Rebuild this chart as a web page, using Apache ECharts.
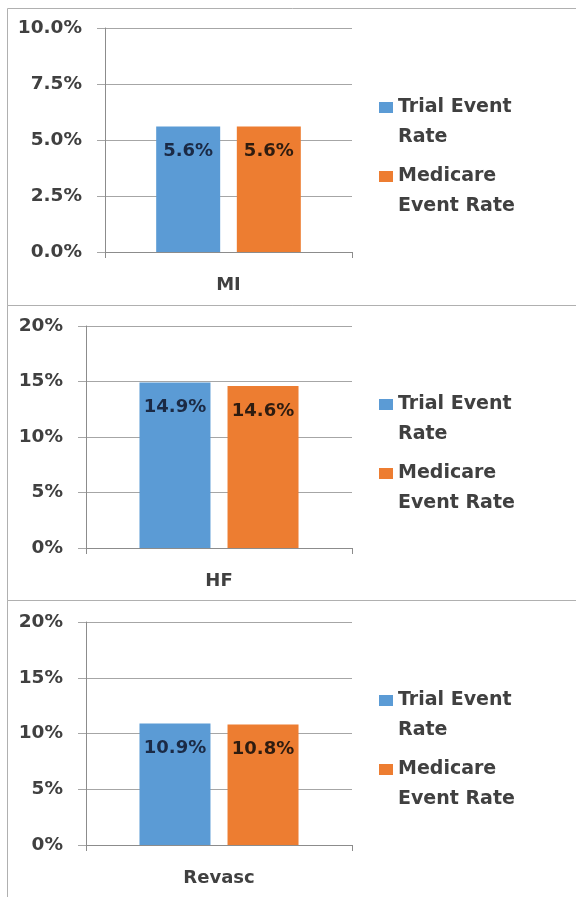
<!DOCTYPE html>
<html>
<head>
<meta charset="utf-8">
<script src="https://cdn.jsdelivr.net/npm/echarts@6/dist/echarts.min.js"></script>
<style>
html,body{margin:0;padding:0;background:#fff;}
#chart{width:576px;height:897px;}
</style>
</head>
<body>
<div id="chart"></div>
<script>
var categories=['MI','HF','Revasc'];
var seriesNames=['Trial Event Rate','Medicare Event Rate'];
var trialRate=[5.6,14.9,10.9];
var medicareRate=[5.6,14.6,10.8];
var yMax=[10,20,20];
var yStep=[2.5,5,5];
var yDecimals=[1,0,0];

var font='"DejaVu Sans", sans-serif';
var textColor='#404040';
var colors=['#5b9bd5','#ed7d31'];
var labelColors=['#1b2a45','#2e1c10'];

// panel geometry
var panels=[
    {left:105,top:28,width:247,height:224,barWidth:64,barGap:'26%',legendTop:92},
    {left:86,top:326,width:266,height:222,barWidth:71,barGap:'24%',legendTop:389},
    {left:86,top:622,width:266,height:223,barWidth:71,barGap:'24%',legendTop:685}
];

var grids=[],xAxes=[],yAxes=[],series=[],legends=[];
// square at first text line, invisible dots stretch the icon box to the text block
var legendIcon='path://M0,10h14v11h-14z M0,0h0.01v0.01h-0.01z M0,60h0.01v0.01h-0.01z';

panels.forEach(function(p,i){
    grids.push({left:p.left,top:p.top,width:p.width,height:p.height});
    xAxes.push({
        type:'category',gridIndex:i,data:[categories[i]],
        axisLine:{lineStyle:{color:'#8c8c8c'}},
        axisTick:{show:true,length:6,lineStyle:{color:'#8c8c8c'}},
        axisLabel:{color:textColor,fontFamily:font,fontWeight:'bold',fontSize:18,margin:24}
    });
    yAxes.push({
        type:'value',gridIndex:i,min:0,max:yMax[i],interval:yStep[i],
        axisLine:{show:true,lineStyle:{color:'#8c8c8c'}},
        axisTick:{show:true,length:8,lineStyle:{color:'#a6a6a6'}},
        splitLine:{lineStyle:{color:'#a6a6a6'}},
        axisLabel:{
            color:textColor,fontFamily:font,fontWeight:'bold',fontSize:18.5,margin:23,
            formatter:(function(d){return function(v){return v.toFixed(d)+'%';};})(yDecimals[i])
        }
    });
    [trialRate,medicareRate].forEach(function(vals,s){
        series.push({
            name:seriesNames[s],type:'bar',xAxisIndex:i,yAxisIndex:i,
            barWidth:p.barWidth,barGap:p.barGap,
            itemStyle:{color:colors[s]},
            label:{
                show:true,position:'insideTop',distance:16,
                color:labelColors[s],fontFamily:font,fontWeight:'bold',fontSize:18,
                formatter:function(o){return o.value.toFixed(1)+'%';}
            },
            data:[vals[i]]
        });
    });
    legends.push({
        orient:'vertical',left:379,top:p.legendTop,padding:0,
        itemWidth:14,itemHeight:60,itemGap:9,icon:legendIcon,
        selectedMode:false,
        data:seriesNames,
        formatter:function(name){
            return name==='Trial Event Rate'?'Trial Event\nRate':'Medicare\nEvent Rate';
        },
        textStyle:{color:textColor,fontFamily:font,fontWeight:'bold',fontSize:19,lineHeight:30}
    });
});

var chart=echarts.init(document.getElementById('chart'));
chart.setOption({
    animation:false,
    color:colors,
    grid:grids,xAxis:xAxes,yAxis:yAxes,legend:legends,series:series,
    graphic:[
        {type:'rect',shape:{x:7.5,y:8.5,width:600,height:297},style:{fill:'none',stroke:'#b0b0b0',lineWidth:1},silent:true},
        {type:'rect',shape:{x:7.5,y:305.5,width:600,height:295},style:{fill:'none',stroke:'#b0b0b0',lineWidth:1},silent:true},
        {type:'rect',shape:{x:7.5,y:600.5,width:600,height:320},style:{fill:'none',stroke:'#b0b0b0',lineWidth:1},silent:true}
    ]
});
</script>
</body>
</html>
